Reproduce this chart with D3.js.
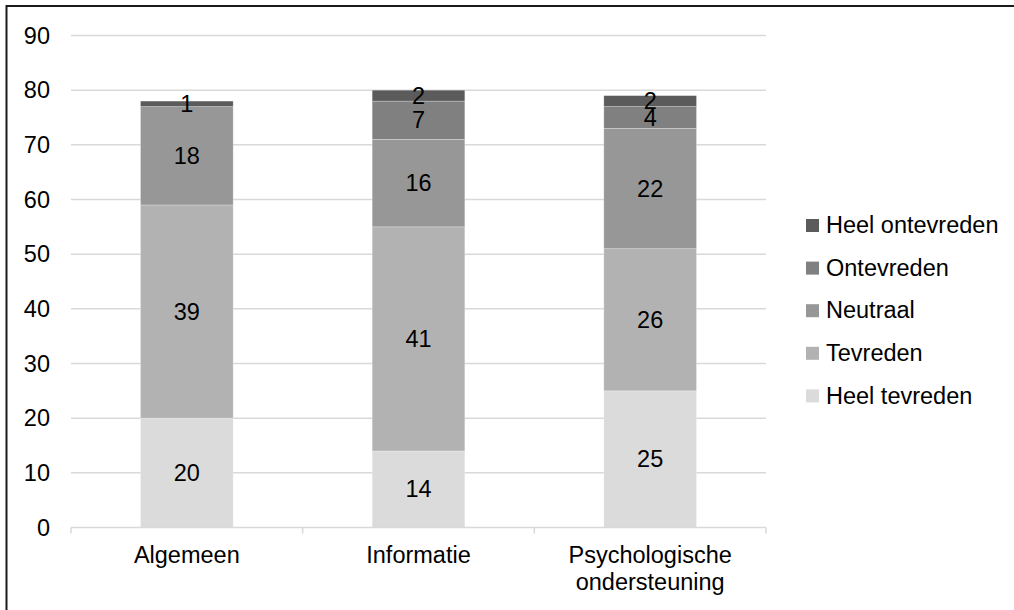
<!DOCTYPE html>
<html><head><meta charset="utf-8">
<script src="https://cdn.jsdelivr.net/npm/d3@7"></script>
<style>body{margin:0;background:#fff}svg{display:block}text{font-family:"Liberation Sans",Arial,sans-serif;fill:#000}</style>
</head><body><svg id="c" width="1014" height="610"></svg>
<script>
const categories = ["Algemeen", "Informatie", "Psychologische\nondersteuning"];
const seriesNames = ["Heel tevreden", "Tevreden", "Neutraal", "Ontevreden", "Heel ontevreden"];
const heelTevreden = [20, 14, 25];
const tevreden = [39, 41, 26];
const neutraal = [18, 16, 22];
const ontevreden = [0, 7, 4];
const heelOntevreden = [1, 2, 2];
const yTicks = [0, 10, 20, 30, 40, 50, 60, 70, 80, 90];
const colors = ["#dbdbdb", "#b2b2b2", "#979797", "#808080", "#5b5b5b"];

const seriesValues = [heelTevreden, tevreden, neutraal, ontevreden, heelOntevreden];
const rows = categories.map((c, i) => {
  const r = {cat: c};
  seriesNames.forEach((s, k) => r[s] = seriesValues[k][i]);
  return r;
});
const stack = d3.stack().keys(seriesNames)(rows);

const svg = d3.select("#c");
const fs = 23.5;
// outer frame (top & left visible)
svg.append("rect").attr("x", 6.5).attr("y", 6).attr("width", 1020).attr("height", 620)
  .attr("fill", "none").attr("stroke", "#1a1a1a").attr("stroke-width", 2);

const x0 = 71, x1 = 766, yBottom = 527.5, yTop = 35.5;
const x = d3.scaleBand().domain(categories).range([x0, x1]).paddingInner(0).paddingOuter(0);
const y = d3.scaleLinear().domain([0, 90]).range([yBottom, yTop]);

// gridlines
svg.append("g").selectAll("line").data(yTicks.filter(t => t > 0)).join("line")
  .attr("x1", x0).attr("x2", x1).attr("y1", d => y(d)).attr("y2", d => y(d))
  .attr("stroke", "#d9d9d9").attr("stroke-width", 1.5);

// y labels
svg.append("g").selectAll("text").data(yTicks).join("text")
  .attr("x", 50).attr("y", d => y(d)).attr("dy", "0.35em").attr("text-anchor", "end")
  .attr("font-size", fs).text(d => d);

// bars
const bw = x.bandwidth() * 0.4;
const g = svg.append("g");
stack.forEach((layer, k) => {
  g.append("g").selectAll("rect").data(layer).join("rect")
    .attr("x", d => x(d.data.cat) + (x.bandwidth() - bw) / 2)
    .attr("width", bw)
    .attr("y", d => y(d[1]))
    .attr("height", d => y(d[0]) - y(d[1]))
    .attr("fill", colors[k])
    .attr("stroke", "#ffffff").attr("stroke-opacity", 0.35).attr("stroke-width", 0.75);
});
// labels
stack.forEach((layer, k) => {
  g.append("g").selectAll("text").data(layer.filter(d => d[1] - d[0] > 0)).join("text")
    .attr("x", d => x(d.data.cat) + x.bandwidth() / 2)
    .attr("y", d => y((d[0] + d[1]) / 2)).attr("dy", "0.35em")
    .attr("text-anchor", "middle").attr("font-size", fs)
    .text(d => d[1] - d[0]);
});

// x axis line + ticks
svg.append("line").attr("x1", x0).attr("x2", x1).attr("y1", yBottom).attr("y2", yBottom)
  .attr("stroke", "#d9d9d9").attr("stroke-width", 1.5);
const bounds = [x0, ...categories.map(c => x(c) + x.bandwidth())];
svg.append("g").selectAll("line").data(bounds).join("line")
  .attr("x1", d => d).attr("x2", d => d).attr("y1", yBottom).attr("y2", yBottom + 6)
  .attr("stroke", "#d9d9d9").attr("stroke-width", 1.5);

// category labels
categories.forEach(c => {
  const lines = c.split("\n");
  const t = svg.append("text").attr("text-anchor", "middle").attr("font-size", fs)
    .attr("x", x(c) + x.bandwidth() / 2).attr("y", 563);
  lines.forEach((l, i) => t.append("tspan").attr("x", x(c) + x.bandwidth() / 2)
    .attr("dy", i === 0 ? 0 : 27).text(l));
});

// legend
const legendOrder = seriesNames.slice().reverse();
const lg = svg.append("g");
legendOrder.forEach((s, i) => {
  const cy = 225 + i * 42.6;
  lg.append("rect").attr("x", 806).attr("y", cy - 6).attr("width", 13).attr("height", 13)
    .attr("fill", colors[seriesNames.indexOf(s)]);
  lg.append("text").attr("x", 826).attr("y", cy).attr("dy", "0.35em").attr("font-size", fs).text(s);
});
</script></body></html>
